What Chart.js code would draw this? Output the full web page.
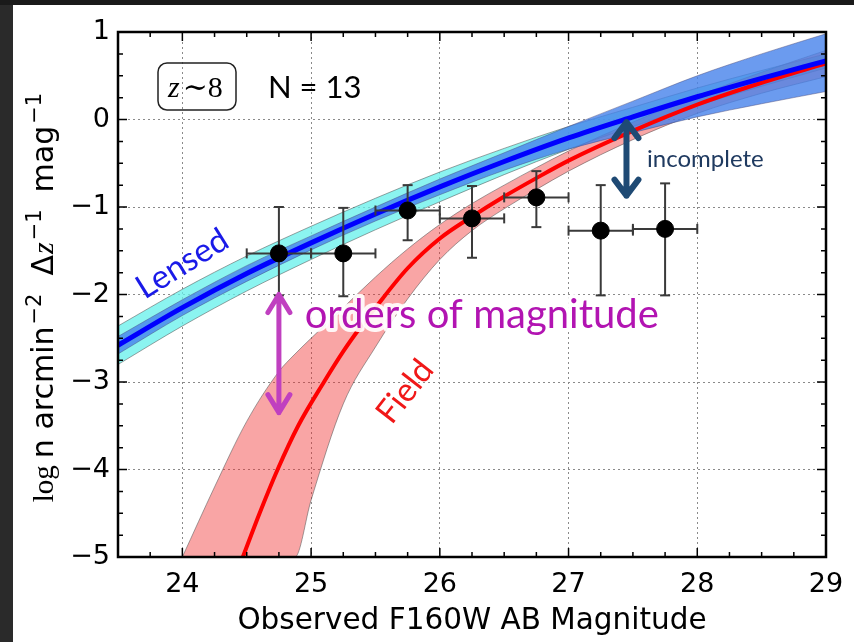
<!DOCTYPE html>
<html>
<head>
<meta charset="utf-8">
<title>z~8 number counts, lensed vs field</title>
<script src="https://cdn.jsdelivr.net/npm/chart.js@4.4.1/dist/chart.umd.min.js"></script>
<style>
    html, body { margin: 0; padding: 0; }
    body { width: 854px; height: 642px; background: #2a2a2a; position: relative; overflow: hidden; }
    #top-strip { position: absolute; left: 0; top: 0; width: 854px; height: 5px; background: #1a1a1a; }
    #panel { position: absolute; left: 13px; top: 5px; width: 841px; height: 637px; background: #ffffff; }
    #chart { position: absolute; left: 0; top: 0; }
</style>
</head>
<body>
<div id="top-strip"></div>
<div id="panel"></div>
<canvas id="chart" width="854" height="642"></canvas>
<script>
// Lensed model: magnitude grid, median curve and its two bands
var lensedMag = [23.5, 24, 24.5, 25, 25.5, 26, 26.5, 27, 27.5, 28, 28.5, 29];
var lensedLogN = [-2.58, -2.15, -1.76, -1.41, -1.08, -0.77, -0.48, -0.21, 0.03, 0.26, 0.47, 0.67];
var lensedInnerHi = [-2.48, -2.06, -1.67, -1.33, -1.00, -0.68, -0.38, -0.08, 0.21, 0.50, 0.75, 0.98];
var lensedInnerLo = [-2.68, -2.24, -1.85, -1.49, -1.16, -0.86, -0.58, -0.34, -0.15, 0.03, 0.18, 0.32];
var lensedOuterHi = [-2.36, -1.94, -1.56, -1.22, -0.90, -0.60, -0.33, -0.08, 0.14, 0.36, 0.56, 0.75];
var lensedOuterLo = [-2.80, -2.36, -1.96, -1.60, -1.26, -0.94, -0.63, -0.34, -0.08, 0.16, 0.38, 0.59];

// Field model: median curve and its band
var fieldMag = [24.47, 24.6, 24.74, 24.9, 25.1, 25.25, 25.38, 25.5, 25.75, 26, 26.25, 26.5, 26.75, 27, 27.5, 28, 28.5, 29];
var fieldLogN = [-5.0, -4.5, -4.0, -3.5, -3.0, -2.65, -2.38, -2.15, -1.7, -1.36, -1.11, -0.88, -0.67, -0.47, -0.13, 0.17, 0.42, 0.64];
var fieldBandMag = [24, 24.25, 24.5, 24.75, 24.875, 25, 25.25, 25.5, 25.75, 26, 26.25, 26.5, 26.75, 27, 27.5, 28, 28.5, 29];
var fieldHi = [-5.0, -4.2, -3.45, -2.88, -2.68, -2.5, -2.15, -1.8, -1.48, -1.2, -0.96, -0.75, -0.55, -0.36, -0.03, 0.27, 0.54, 0.79];
var fieldLo = [-5.0, -5.0, -5.0, -5.0, -5.0, -4.35, -3.25, -2.6, -2.05, -1.6, -1.27, -1.02, -0.8, -0.59, -0.23, 0.07, 0.30, 0.49];

// Observed bins (N = 13)
var binMag = [24.75, 25.25, 25.75, 26.25, 26.75, 27.25, 27.75];
var binLogN = [-1.53, -1.53, -1.04, -1.13, -0.89, -1.27, -1.25];
var binUpper = [-1.00, -1.01, -0.75, -0.76, -0.59, -0.75, -0.73];
var binLower = [-2.01, -2.02, -1.38, -1.58, -1.23, -2.01, -2.01];
var binHalfWidth = [0.25, 0.25, 0.25, 0.25, 0.25, 0.25, 0.25];

// Axis ticks
var xTickValues = [24, 25, 26, 27, 28, 29];
var yTickValues = [-5, -4, -3, -2, -1, 0, 1];
var minorStep = 0.25;

var sansFont = '"DejaVu Sans", sans-serif';
var noteFont = 'Lato, "Open Sans", sans-serif';
var serifFont = '"Liberation Serif", "DejaVu Serif", serif';

/**
 * Junta dois arrays em pontos {x, y}
 */
function toPoints(xs, ys) {
    return xs.map(function(x, i) { return {x: x, y: ys[i]}; });
}

/**
 * Dataset de curva suave
 */
function curve(xs, ys, opts) {
    return Object.assign({
        data: toPoints(xs, ys),
        showLine: true,
        pointRadius: 0,
        borderWidth: 1,
        cubicInterpolationMode: 'monotone',
        fill: false
    }, opts);
}

/**
 * Segmentos das barras de erro, separados por pontos nulos
 */
function errorBarPoints(vertical) {
    let pts = [];
    binMag.forEach(function(m, i) {
        if (vertical) {
            pts.push({x: m, y: binLower[i]}, {x: m, y: binUpper[i]});
        } else {
            pts.push({x: m - binHalfWidth[i], y: binLogN[i]}, {x: m + binHalfWidth[i], y: binLogN[i]});
        }
        pts.push({x: m, y: null});
    });
    return pts;
}

function capRadius(ctx) {
    return (ctx.raw && ctx.raw.y !== null) ? 5 : 0;
}

function isWhole(v) {
    return Math.abs(v - Math.round(v)) < 1e-6;
}

function minusLabel(v) {
    return v < 0 ? '\u2212' + Math.abs(v) : String(v);
}

/**
 * Texto rotacionado centrado num ponto
 */
function rotatedText(ctx, text, x, y, deg, font, color) {
    ctx.save();
    ctx.translate(x, y);
    ctx.rotate(deg * Math.PI / 180);
    ctx.font = font;
    ctx.fillStyle = color;
    ctx.textAlign = 'center';
    ctx.textBaseline = 'middle';
    ctx.fillText(text, 0, 0);
    ctx.restore();
}

/**
 * Seta vertical de duas pontas
 */
function doubleArrow(ctx, x, yTop, yBot, color, width, headW, headL) {
    ctx.save();
    ctx.strokeStyle = color;
    ctx.lineWidth = width;
    ctx.lineCap = 'round';
    ctx.lineJoin = 'round';
    ctx.beginPath();
    ctx.moveTo(x, yTop);
    ctx.lineTo(x, yBot);
    ctx.moveTo(x - headW, yTop + headL);
    ctx.lineTo(x, yTop);
    ctx.lineTo(x + headW, yTop + headL);
    ctx.moveTo(x - headW, yBot - headL);
    ctx.lineTo(x, yBot);
    ctx.lineTo(x + headW, yBot - headL);
    ctx.stroke();
    ctx.restore();
}

/**
 * Textos e setas sobre o gráfico
 */
function drawAnnotations(chart) {
    let ctx = chart.ctx, a = chart.chartArea;
    let sx = chart.scales.x, sy = chart.scales.y;

    rotatedText(ctx, 'Lensed', sx.getPixelForValue(24.0), sy.getPixelForValue(-1.65), -32, '33px ' + noteFont, '#1a1ae8');
    rotatedText(ctx, 'Field', sx.getPixelForValue(25.73), sy.getPixelForValue(-3.11), -52, '33px ' + noteFont, '#f01818');

    doubleArrow(ctx, sx.getPixelForValue(24.75), sy.getPixelForValue(-2.0), sy.getPixelForValue(-3.35), '#c040c0', 5, 11, 18);
    doubleArrow(ctx, sx.getPixelForValue(27.45), sy.getPixelForValue(-0.03), sy.getPixelForValue(-0.87), '#1f4a74', 6, 12, 16);

    ctx.save();
    ctx.textAlign = 'left';
    ctx.textBaseline = 'alphabetic';

    // orders of magnitude, com halo branco
    let ox = sx.getPixelForValue(24.95), oy = sy.getPixelForValue(-2.38);
    ctx.font = '40px ' + noteFont;
    ctx.lineJoin = 'round';
    ctx.strokeStyle = 'rgba(255,255,255,0.9)';
    ctx.lineWidth = 8;
    ctx.strokeText('orders of magnitude', ox, oy);
    ctx.fillStyle = '#b214b2';
    ctx.fillText('orders of magnitude', ox, oy);

    ctx.font = '24px ' + noteFont;
    ctx.fillStyle = '#1f3a60';
    ctx.fillText('incomplete', sx.getPixelForValue(27.61), sy.getPixelForValue(-0.54));

    // caixa z~8 e N = 13
    ctx.strokeStyle = '#222';
    ctx.lineWidth = 1.5;
    ctx.beginPath();
    ctx.roundRect(a.left + 40, a.top + 31, 78, 47, 9);
    ctx.stroke();
    ctx.fillStyle = '#000';
    ctx.font = 'italic 30px ' + serifFont;
    let zx = a.left + 50;
    ctx.fillText('z', zx, a.top + 65);
    zx += ctx.measureText('z').width + 3;
    ctx.font = '30px ' + serifFont;
    ctx.fillText('\u223C8', zx, a.top + 65);

    ctx.font = '31px ' + noteFont;
    ctx.fillText('N = 13', a.left + 150, a.top + 66);
    ctx.restore();
}

/**
 * Moldura com ticks para dentro nos quatro lados
 */
function drawFrame(chart) {
    let ctx = chart.ctx, a = chart.chartArea;
    let sx = chart.scales.x, sy = chart.scales.y;
    ctx.save();
    ctx.strokeStyle = '#000';
    ctx.lineWidth = 1.5;
    ctx.beginPath();
    for (let v = sx.min; v <= sx.max + 1e-6; v += minorStep) {
        let px = sx.getPixelForValue(v);
        let len = isWhole(v) ? 9 : 5;
        ctx.moveTo(px, a.bottom); ctx.lineTo(px, a.bottom - len);
        ctx.moveTo(px, a.top); ctx.lineTo(px, a.top + len);
    }
    for (let v = sy.min; v <= sy.max + 1e-6; v += minorStep) {
        let py = sy.getPixelForValue(v);
        let len = isWhole(v) ? 9 : 5;
        ctx.moveTo(a.left, py); ctx.lineTo(a.left + len, py);
        ctx.moveTo(a.right, py); ctx.lineTo(a.right - len, py);
    }
    ctx.stroke();
    ctx.lineWidth = 2.5;
    ctx.strokeRect(a.left, a.top, a.right - a.left, a.bottom - a.top);
    ctx.restore();
}

// Partes do título do eixo y (texto com expoentes)
var yTitleParts = [
    {text: 'log', font: '29px ' + serifFont},
    {text: 'n arcmin', font: '30px ' + sansFont, gap: 7},
    {text: '\u22122', font: '21px ' + sansFont, rise: 12, gap: 2},
    {text: '\u0394', font: '30px ' + sansFont, gap: 18},
    {text: 'z', font: 'italic 30px ' + serifFont, gap: 1},
    {text: '\u22121', font: '21px ' + sansFont, rise: 12, gap: 2},
    {text: 'mag', font: '30px ' + sansFont, gap: 17},
    {text: '\u22121', font: '21px ' + sansFont, rise: 12, gap: 2}
];

function drawYTitle(chart) {
    let ctx = chart.ctx, a = chart.chartArea;
    ctx.save();
    let total = 0;
    yTitleParts.forEach(function(p) {
        ctx.font = p.font;
        total += (p.gap || 0) + ctx.measureText(p.text).width;
    });
    ctx.translate(a.left - 65, (a.top + a.bottom) / 2 + 3 + total / 2);
    ctx.rotate(-Math.PI / 2);
    ctx.fillStyle = '#000';
    ctx.textAlign = 'left';
    ctx.textBaseline = 'alphabetic';
    let pos = 0;
    yTitleParts.forEach(function(p) {
        pos += p.gap || 0;
        ctx.font = p.font;
        ctx.fillText(p.text, pos, -(p.rise || 0));
        pos += ctx.measureText(p.text).width;
    });
    ctx.restore();
}

var decorPlugin = {
    id: 'decor',
    afterDatasetsDraw: function(chart) {
        drawAnnotations(chart);
        drawFrame(chart);
    },
    afterDraw: function(chart) {
        drawYTitle(chart);
    }
};

var edgeGray = 'rgba(85,85,85,0.55)';

var countsChart = new Chart(document.getElementById('chart'), {
    type: 'scatter',
    data: {
        datasets: [
            curve(lensedMag, lensedOuterLo, {borderColor: edgeGray, order: 9}),
            curve(lensedMag, lensedOuterHi, {borderColor: edgeGray, backgroundColor: 'rgba(100,240,235,0.75)', fill: 0, order: 9}),
            curve(fieldBandMag, fieldLo, {borderColor: edgeGray, order: 8}),
            curve(fieldBandMag, fieldHi, {borderColor: edgeGray, backgroundColor: 'rgba(240,40,40,0.42)', fill: 2, order: 8}),
            curve(lensedMag, lensedInnerLo, {borderColor: 'rgba(70,70,120,0.45)', order: 7}),
            curve(lensedMag, lensedInnerHi, {borderColor: 'rgba(70,70,120,0.45)', backgroundColor: 'rgba(70,130,235,0.8)', fill: 4, order: 7}),
            curve(fieldMag, fieldLogN, {borderColor: '#ff0000', borderWidth: 4, order: 6}),
            curve(lensedMag, lensedLogN, {borderColor: '#0000ff', borderWidth: 5, order: 5}),
            {
                data: errorBarPoints(true),
                showLine: true,
                spanGaps: false,
                borderColor: '#3a3a3a',
                borderWidth: 2,
                pointStyle: 'line',
                pointRadius: capRadius,
                pointBorderColor: '#3a3a3a',
                pointBorderWidth: 2,
                pointRotation: 0,
                order: 4
            },
            {
                data: errorBarPoints(false),
                showLine: true,
                spanGaps: false,
                borderColor: '#3a3a3a',
                borderWidth: 2,
                pointStyle: 'line',
                pointRadius: capRadius,
                pointBorderColor: '#3a3a3a',
                pointBorderWidth: 2,
                pointRotation: 90,
                order: 4
            },
            {
                data: toPoints(binMag, binLogN),
                pointRadius: 8.5,
                pointBackgroundColor: '#000',
                pointBorderColor: '#000',
                order: 3
            }
        ]
    },
    options: {
        responsive: false,
        animation: false,
        devicePixelRatio: 1,
        events: [],
        layout: {
            padding: {left: 13, top: 32, right: 28, bottom: 0}
        },
        plugins: {
            legend: {display: false},
            tooltip: {enabled: false}
        },
        scales: {
            x: {
                type: 'linear',
                min: 23.5,
                max: 29,
                afterBuildTicks: function(scale) {
                    scale.ticks = xTickValues.map(function(v) { return {value: v}; });
                },
                afterFit: function(scale) {
                    scale.height = 85;
                    scale.paddingLeft = 0;
                    scale.paddingRight = 0;
                },
                grid: {
                    color: '#8a8a8a',
                    lineWidth: 1,
                    drawTicks: false
                },
                border: {display: false, dash: [2, 3]},
                ticks: {
                    color: '#000',
                    padding: 12,
                    maxRotation: 0,
                    font: {family: sansFont, size: 27},
                    callback: function(v) { return minusLabel(v); }
                },
                title: {
                    display: true,
                    text: 'Observed F160W AB Magnitude',
                    color: '#000',
                    font: {family: sansFont, size: 29.5},
                    padding: {top: 0, bottom: 3}
                }
            },
            y: {
                type: 'linear',
                min: -5,
                max: 1,
                afterBuildTicks: function(scale) {
                    scale.ticks = yTickValues.map(function(v) { return {value: v}; });
                },
                afterFit: function(scale) {
                    scale.width = 105;
                    scale.paddingTop = 0;
                    scale.paddingBottom = 0;
                },
                grid: {
                    color: '#8a8a8a',
                    lineWidth: 1,
                    drawTicks: false
                },
                border: {display: false, dash: [2, 3]},
                ticks: {
                    color: '#000',
                    padding: 8,
                    font: {family: sansFont, size: 27},
                    callback: function(v) { return minusLabel(v); }
                }
            }
        }
    },
    plugins: [decorPlugin]
});
</script>
</body>
</html>
